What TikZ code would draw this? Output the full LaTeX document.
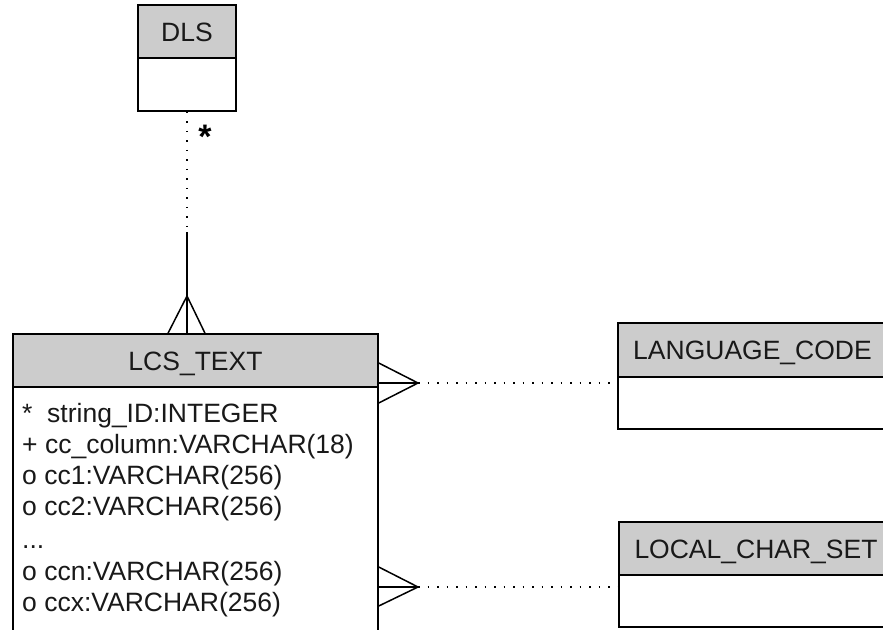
\documentclass[tikz,border=0pt]{standalone}
\usepackage{fontspec}
\setmainfont{Liberation Sans}
\usetikzlibrary{calc}
\definecolor{hdrgray}{RGB}{204,204,204}
\definecolor{txt}{RGB}{25,25,25}
\tikzset{
  box/.style={draw=black, line width=1.5pt, inner sep=0pt, rectangle},
  hdr/.style={box, fill=hdrgray, text=txt, font=\fontsize{26.5}{31}\selectfont, text height=19pt, text depth=0pt},
  bodybox/.style={box, fill=white},
  attr/.style={anchor=base west, inner sep=0pt, text=txt, font=\fontsize{26.5}{31}\selectfont},
  rel/.style={line width=1.5pt},
  dots/.style={line width=1.5pt, dash pattern=on 1.5pt off 8pt},
}
\begin{document}
\begin{tikzpicture}[x=1pt,y=-1pt]
\useasboundingbox (0,0) rectangle (883,629);
\clip (0,0) rectangle (883,629);
% DLS
\node[bodybox, minimum width=98pt, minimum height=53pt] (dlsb) at (187,84.5) {};
\node[hdr, minimum width=98pt, minimum height=53pt] (dlsh) at (187,31.5) {DLS};
% LCS_TEXT
\node[bodybox, minimum width=365pt, minimum height=273pt] (lcsb) at (195.5,523.5) {};
\node[hdr, minimum width=365pt, minimum height=53pt] (lcsh) at (195.5,360.5) {LCS\_TEXT};
\node[attr] (a1) at (22,422) {*~~string\_ID:INTEGER};
\node[attr] (a2) at (22,453) {+ cc\_column:VARCHAR(18)};
\node[attr] (a3) at (22,484) {o cc1:VARCHAR(256)};
\node[attr] (a4) at (22,515.5) {o cc2:VARCHAR(256)};
\node[attr] (a5) at (22,548) {...};
\node[attr] (a6) at (22,580) {o ccn:VARCHAR(256)};
\node[attr] (a7) at (22,611.5) {o ccx:VARCHAR(256)};
% LANGUAGE_CODE
\node[bodybox, minimum width=269pt, minimum height=52pt] (langb) at (752.5,403) {};
\node[hdr, minimum width=269pt, minimum height=54pt] (langh) at (752.5,350) {LANGUAGE\_CODE};
% LOCAL_CHAR_SET
\node[bodybox, minimum width=274pt, minimum height=52pt] (locb) at (756,601) {};
\node[hdr, minimum width=274pt, minimum height=53pt] (loch) at (756,548.5) {LOCAL\_CHAR\_SET};
% cardinality mark
\node[anchor=base, inner sep=0pt, font=\bfseries\fontsize{34}{36}\selectfont] (card) at (205,148) {*};
% DLS -- LCS_TEXT
\coordinate (t0) at (187,232);
\coordinate (f0) at (187,296);
\draw[dots] (dlsb.south) -- (t0);
\draw[rel] (t0) -- (t0 |- lcsh.north);
\draw[rel] ($(t0 |- lcsh.north)+(-19,0)$) -- (f0) -- ($(t0 |- lcsh.north)+(18,0)$);
% LCS_TEXT -- LANGUAGE_CODE
\coordinate (f1) at (418,383);
\draw[rel] ($(lcsh.east |- f1)+(0,-20)$) -- (f1) -- ($(lcsh.east |- f1)+(0,20)$);
\draw[rel] (lcsh.east |- f1) -- (f1);
\draw[dots] (f1) -- (langb.west |- f1);
% LCS_TEXT -- LOCAL_CHAR_SET
\coordinate (f2) at (418,587);
\draw[rel] ($(lcsh.east |- f2)+(0,-20)$) -- (f2) -- ($(lcsh.east |- f2)+(0,19)$);
\draw[rel] (lcsh.east |- f2) -- (f2);
\draw[dots] (f2) -- (locb.west |- f2);
\end{tikzpicture}
\end{document}
